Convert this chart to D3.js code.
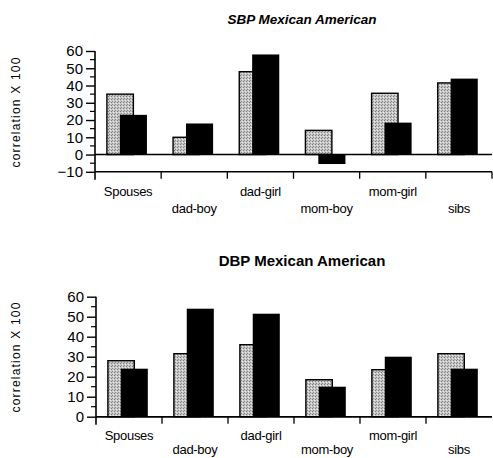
<!DOCTYPE html>
<html><head><meta charset="utf-8">
<script src="https://cdn.jsdelivr.net/npm/d3@7"></script>
<style>
body{margin:0;background:#fff;}
svg{display:block;font-family:"Liberation Sans",Arial,Helvetica,sans-serif;}
</style></head><body>
<svg id="c" width="493" height="458"></svg>
<script>
const categories = ["Spouses","dad-boy","dad-girl","mom-boy","mom-girl","sibs"];
const sbpGray  = [35, 10, 48, 14, 35.5, 41.5];
const sbpBlack = [23, 18, 58, -5.5, 18.5, 44];
const dbpGray  = [28, 31.5, 36, 18.5, 23.5, 31.5];
const dbpBlack = [24, 54, 51.5, 15, 30, 24];
const sbpTicks = [-10,0,10,20,30,40,50,60];
const dbpTicks = [0,10,20,30,40,50,60];

const svg = d3.select("#c");
const defs = svg.append("defs");
const pat = defs.append("pattern").attr("id","stip").attr("patternUnits","userSpaceOnUse")
  .attr("width",3).attr("height",3);
pat.append("rect").attr("width",3).attr("height",3).attr("fill","#c6c6c6");
pat.append("rect").attr("x",0).attr("y",0).attr("width",1).attr("height",1).attr("fill","#7c7c7c");
pat.append("rect").attr("x",2).attr("y",1).attr("width",1).attr("height",1).attr("fill","#ececec");
pat.append("rect").attr("x",1).attr("y",2).attr("width",1).attr("height",1).attr("fill","#8c8c8c");

function panel(cfg){
  const g = svg.append("g");
  const x = d3.scaleBand().domain(categories).range([cfg.x0, 492]).paddingInner(0).paddingOuter(0);
  const y = d3.scaleLinear().domain(cfg.domain).range(cfg.yr);
  const bw = x.bandwidth();

  g.append("text").attr("x",302).attr("y",cfg.titleY).attr("text-anchor","middle")
    .attr("font-size",cfg.titleSize).attr("font-weight","bold").attr("font-style",cfg.italic?"italic":"normal")
    .text(cfg.title);

  g.append("text").attr("transform",`translate(20,${cfg.labelY}) rotate(-90)`)
    .attr("text-anchor","middle").attr("font-size",12).attr("letter-spacing","1.2px")
    .text("correlation X 100");

  const data = categories.map((c,i)=>({c, g:cfg.gray[i], b:cfg.black[i]}));
  g.selectAll(".gb").data(data).join("rect")
    .attr("x",d=>x(d.c)+bw*0.18).attr("width",bw*0.40)
    .attr("y",d=>y(Math.max(0,d.g))).attr("height",d=>Math.abs(y(d.g)-y(0)))
    .attr("fill","url(#stip)").attr("stroke","#000").attr("stroke-width",1.4);
  g.selectAll(".bb").data(data).join("rect")
    .attr("x",d=>x(d.c)+bw*0.375).attr("width",bw*0.41)
    .attr("y",d=>y(Math.max(0,d.b))).attr("height",d=>Math.abs(y(d.b)-y(0)))
    .attr("fill","#000");

  g.append("line").attr("x1",cfg.x0).attr("x2",492).attr("y1",y(0)).attr("y2",y(0))
    .attr("stroke","#000").attr("stroke-width",1.5);

  const ya = g.append("g").attr("transform",`translate(${cfg.x0},0)`)
    .call(d3.axisLeft(y).tickValues(cfg.ticks).tickSize(9).tickPadding(3).tickFormat(d3.format("d")));
  ya.select(".domain").remove();
  ya.selectAll(".tick line").attr("stroke-width",1.4);
  ya.selectAll(".tick text").attr("font-size",15).attr("font-family","'Liberation Sans',Arial,sans-serif").attr("fill","#000");
  const minor = cfg.ticks.slice(0,-1).map(t=>t+5);
  g.selectAll(".mn").data(minor).join("line")
    .attr("x1",cfg.x0-5).attr("x2",cfg.x0).attr("y1",d=>y(d)).attr("y2",d=>y(d))
    .attr("stroke","#000").attr("stroke-width",1.2);
  const yb = y(cfg.domain[0]);
  g.append("line").attr("x1",cfg.x0).attr("x2",cfg.x0).attr("y1",y(cfg.domain[1])).attr("y2",yb+8)
    .attr("stroke","#000").attr("stroke-width",1.6);

  g.append("line").attr("x1",cfg.x0).attr("x2",492).attr("y1",yb).attr("y2",yb)
    .attr("stroke","#000").attr("stroke-width",1.5);
  const bounds = categories.map(c=>x(c)).concat([x.range()[1]]);
  g.selectAll(".xt").data(bounds.slice(1, cfg.lastTick?7:6)).join("line")
    .attr("x1",d=>d).attr("x2",d=>d).attr("y1",yb).attr("y2",yb+7)
    .attr("stroke","#000").attr("stroke-width",1.3);

  g.selectAll(".xl").data(categories).join("text")
    .attr("x",c=>x(c)+bw/2).attr("y",(c,i)=>yb+(i%2===0?cfg.row1:cfg.row2))
    .attr("text-anchor","middle").attr("font-size",13).attr("letter-spacing","-0.3px").text(c=>c);
}

panel({title:"SBP Mexican American", italic:true, titleY:24, titleSize:13.5,
  x0:95, domain:[-10,60], yr:[171.8,51], ticks:sbpTicks, gray:sbpGray, black:sbpBlack,
  labelY:112, row1:24, row2:41, lastTick:true});
panel({title:"DBP Mexican American", italic:false, titleY:266, titleSize:15,
  x0:96, domain:[0,60], yr:[416.7,296.7], ticks:dbpTicks, gray:dbpGray, black:dbpBlack,
  labelY:357, row1:23, row2:37, lastTick:false});
</script>
</body></html>
